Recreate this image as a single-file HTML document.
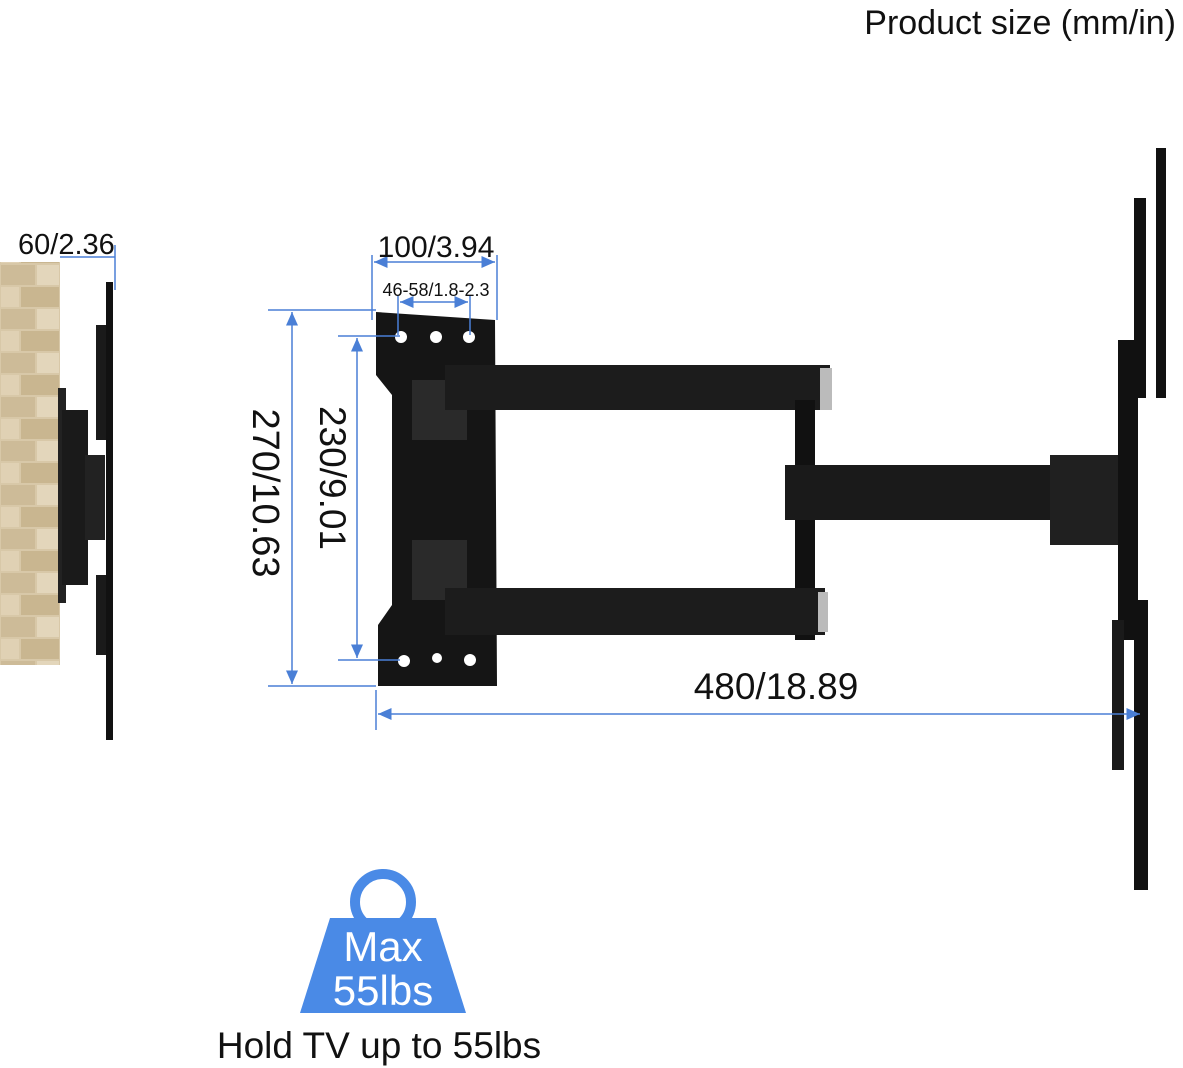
<!DOCTYPE html>
<html><head><meta charset="utf-8"><style>
html,body{margin:0;padding:0;background:#fff;}
svg{display:block;font-family:"Liberation Sans",sans-serif;}
</style></head><body>
<svg width="1183" height="1068" viewBox="0 0 1183 1068" xmlns="http://www.w3.org/2000/svg">
<defs>
<marker id="ar" markerWidth="10" markerHeight="10" refX="9" refY="5" orient="auto-start-reverse"><path d="M0,1 L9,5 L0,9 Z" fill="#4a7fd6"/></marker>
<pattern id="brick" width="60" height="44" patternUnits="userSpaceOnUse">
<rect width="60" height="44" fill="#d8c8a8"/>
<rect x="1" y="1" width="34" height="20" fill="#cdbb98"/>
<rect x="37" y="1" width="22" height="20" fill="#e3d6bb"/>
<rect x="1" y="23" width="18" height="20" fill="#e0d1b4"/>
<rect x="21" y="23" width="38" height="20" fill="#c9b690"/>
</pattern>
</defs>
<text x="1176" y="34" font-size="34" text-anchor="end" fill="#111">Product size (mm/in)</text>

<rect x="0" y="262" width="60" height="403" fill="url(#brick)"/>
<rect x="58" y="388" width="8" height="215" fill="#222"/>
<rect x="62" y="410" width="26" height="175" fill="#1a1a1a"/>
<rect x="85" y="455" width="20" height="85" fill="#222"/>
<rect x="96" y="325" width="12" height="115" fill="#1a1a1a"/>
<rect x="96" y="575" width="12" height="80" fill="#1a1a1a"/>
<rect x="106" y="282" width="7" height="458" fill="#111"/>
<text x="18" y="254" font-size="29" fill="#111">60/2.36</text>
<line x1="60" y1="257" x2="115" y2="257" stroke="#4a7fd6" stroke-width="1.5"/>
<line x1="115" y1="245" x2="115" y2="290" stroke="#4a7fd6" stroke-width="1.5"/>

<path d="M376,312 L495,320 L497,686 L378,686 L378,625 L392,605 L392,395 L376,375 Z" fill="#151515"/>
<rect x="412" y="380" width="55" height="60" fill="#2a2a2a"/>
<rect x="412" y="540" width="55" height="60" fill="#2a2a2a"/>
<circle cx="401" cy="337" r="6" fill="#fff"/><circle cx="436" cy="337" r="6" fill="#fff"/><circle cx="469" cy="337" r="6" fill="#fff"/>
<circle cx="404" cy="661" r="6" fill="#fff"/><circle cx="437" cy="658" r="5" fill="#fff"/><circle cx="470" cy="660" r="6" fill="#fff"/>
<rect x="445" y="365" width="385" height="45" fill="#1c1c1c"/>
<rect x="820" y="368" width="12" height="42" fill="#bbb"/>
<rect x="795" y="400" width="20" height="240" fill="#111"/>
<rect x="445" y="588" width="380" height="47" fill="#1c1c1c"/>
<rect x="818" y="592" width="10" height="40" fill="#bbb"/>
<rect x="785" y="465" width="315" height="55" fill="#1a1a1a"/>
<rect x="1050" y="455" width="80" height="90" fill="#202020"/>
<rect x="1156" y="148" width="10" height="250" fill="#111"/>
<rect x="1134" y="198" width="12" height="200" fill="#111"/>
<rect x="1118" y="340" width="20" height="300" fill="#111"/>
<rect x="1134" y="600" width="14" height="290" fill="#111"/>
<rect x="1112" y="620" width="12" height="150" fill="#1a1a1a"/>

<g stroke="#4a7fd6" stroke-width="1.5" fill="none">
<line x1="268" y1="310" x2="376" y2="310"/><line x1="268" y1="686" x2="376" y2="686"/>
<line x1="292" y1="312" x2="292" y2="684" marker-start="url(#ar)" marker-end="url(#ar)"/>
<line x1="338" y1="336" x2="400" y2="336"/><line x1="338" y1="660" x2="400" y2="660"/>
<line x1="357" y1="338" x2="357" y2="658" marker-start="url(#ar)" marker-end="url(#ar)"/>
<line x1="372" y1="255" x2="372" y2="320"/><line x1="497" y1="255" x2="497" y2="320"/>
<line x1="374" y1="262" x2="495" y2="262" marker-start="url(#ar)" marker-end="url(#ar)"/>
<line x1="398" y1="295" x2="398" y2="335"/><line x1="470" y1="295" x2="470" y2="335"/>
<line x1="400" y1="302" x2="468" y2="302" marker-start="url(#ar)" marker-end="url(#ar)"/>
<line x1="376" y1="690" x2="376" y2="730"/>
<line x1="378" y1="714" x2="1140" y2="714" marker-start="url(#ar)" marker-end="url(#ar)"/>
</g>
<text x="436" y="257" font-size="30" text-anchor="middle" fill="#111">100/3.94</text>
<text x="436" y="296" font-size="18" text-anchor="middle" fill="#111">46-58/1.8-2.3</text>
<text transform="translate(253,493) rotate(90)" font-size="38" text-anchor="middle" fill="#111">270/10.63</text>
<text transform="translate(320,478) rotate(90)" font-size="37" text-anchor="middle" fill="#111">230/9.01</text>
<text x="776" y="699" font-size="37" text-anchor="middle" fill="#111">480/18.89</text>

<circle cx="383" cy="902" r="28" fill="none" stroke="#4a8ae6" stroke-width="10"/>
<path d="M330,918 L436,918 L466,1013 L300,1013 Z" fill="#4a8ae6"/>
<text x="383" y="961" font-size="42" text-anchor="middle" fill="#fff">Max</text>
<text x="383" y="1005" font-size="42" text-anchor="middle" fill="#fff">55lbs</text>
<text x="379" y="1058" font-size="37" text-anchor="middle" fill="#111">Hold TV up to 55lbs</text>
</svg>
</body></html>
